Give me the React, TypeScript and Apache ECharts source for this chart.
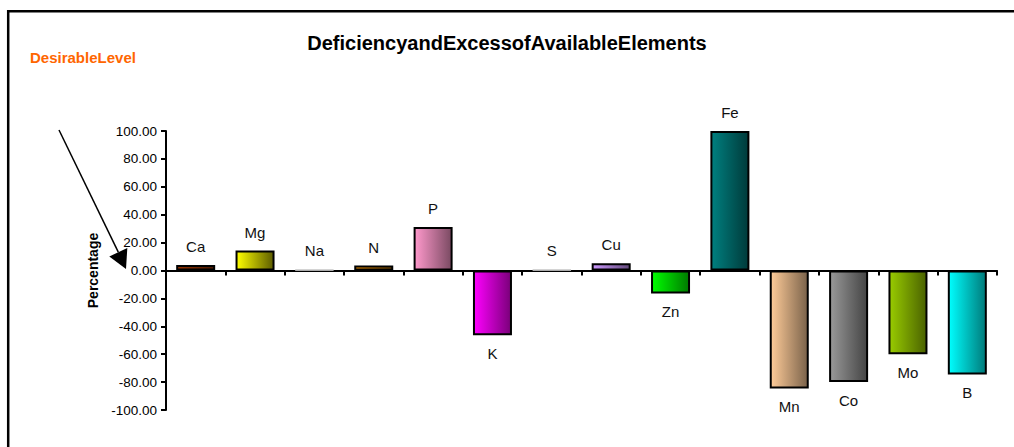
import React, { useEffect, useRef } from "react";
import * as echarts from "echarts";

const categories = ["Ca", "Mg", "Na", "N", "P", "K", "S", "Cu", "Zn", "Fe", "Mn", "Co", "Mo", "B"];
const values = [4, 14.3, 0.4, 3.5, 31.2, -46.4, 0.4, 5.2, -16.4, 100, -84.5, -80, -60, -74.5];
const lightColors = ["#993300", "#ffff00", "#bbbbbb", "#ff9900", "#ff99cc", "#ff00ff", "#bbbbbb", "#cc99ff", "#00ff00", "#008080", "#ffcc99", "#999999", "#99cc00", "#00ffff"];
const darkColors = ["#4a1800", "#5c5c00", "#888888", "#7a4a00", "#7a4a62", "#7a007a", "#888888", "#62497a", "#007a00", "#003a3a", "#7a624a", "#444444", "#4a6200", "#007a7a"];
const faintItems = ["Na", "S"];
const yTicks = { min: -100, max: 100, interval: 20 };

export default function App() {
  const ref = useRef<HTMLDivElement>(null);
  useEffect(() => {
    if (!ref.current) return;
    const chart = echarts.init(ref.current, null, { renderer: "svg" });
    const data = values.map((v, i) => {
      const faint = faintItems.includes(categories[i]);
      return {
        value: v,
        itemStyle: {
          color: new echarts.graphic.LinearGradient(0, 0, 1, 0, [
            { offset: 0, color: lightColors[i] },
            { offset: 1, color: darkColors[i] },
          ]),
          borderColor: faint ? "#aaaaaa" : "#000000",
          borderWidth: faint ? 1.5 : 2,
        },
        label: {
          show: true,
          position: v >= 0 ? "top" : "bottom",
          distance: 11,
          formatter: categories[i],
          fontSize: 15,
          fontFamily: "Arial, 'Liberation Sans', sans-serif",
          color: "#111111",
        },
      };
    });
    chart.setOption({
      animation: false,
      title: {
        text: "DeficiencyandExcessofAvailableElements",
        left: "center",
        top: 33,
        padding: 0,
        textStyle: {
          fontSize: 20,
          fontWeight: "bold",
          fontFamily: "Arial, 'Liberation Sans', sans-serif",
          color: "#000000",
        },
      },
      grid: { left: 166, right: 17, top: 131, bottom: 37, containLabel: false },
      xAxis: {
        type: "category",
        data: categories,
        axisLine: { show: true, onZero: true, lineStyle: { color: "#000000", width: 2 } },
        axisTick: { show: true, length: 5, lineStyle: { color: "#000000", width: 2 } },
        axisLabel: { show: false },
        splitLine: { show: false },
      },
      yAxis: {
        type: "value",
        min: yTicks.min,
        max: yTicks.max,
        interval: yTicks.interval,
        name: "Percentage",
        nameLocation: "middle",
        nameGap: 66,
        nameTextStyle: {
          fontSize: 14,
          fontWeight: "bold",
          fontFamily: "Arial, 'Liberation Sans', sans-serif",
          color: "#000000",
        },
        axisLine: { show: true, lineStyle: { color: "#000000", width: 2 } },
        axisTick: { show: true, length: 5, lineStyle: { color: "#000000", width: 2 } },
        axisLabel: {
          margin: 9,
          fontSize: 13.5,
          fontFamily: "Arial, 'Liberation Sans', sans-serif",
          color: "#000000",
          formatter: (v: number) => v.toFixed(2),
        },
        splitLine: { show: false },
      },
      series: [
        {
          type: "bar",
          data,
          barWidth: 39,
        },
      ],
      graphic: [
        {
          type: "rect",
          silent: true,
          shape: { x: 8.2, y: 11.3, width: 2000, height: 2000 },
          style: { fill: "none", stroke: "#000000", lineWidth: 2.5 },
        },
        {
          type: "text",
          x: 30,
          y: 57.5,
          style: {
            text: "DesirableLevel",
            fontSize: 15,
            fontWeight: "bold",
            fontFamily: "Arial, 'Liberation Sans', sans-serif",
            fill: "#ff6600",
            textVerticalAlign: "middle",
            textAlign: "left",
          },
        },
        {
          type: "line",
          shape: { x1: 59, y1: 130, x2: 118.3, y2: 252.2 },
          style: { stroke: "#000000", lineWidth: 1.5 },
        },
        {
          type: "polygon",
          shape: { points: [[126, 269], [127.3, 248], [109.3, 256.5]] },
          style: { fill: "#000000" },
        },
      ],
    });
    return () => chart.dispose();
  }, []);
  return (
    <div
      ref={ref}
      style={{ position: "absolute", left: 0, top: 0, width: 1014, height: 447 }}
    />
  );
}
